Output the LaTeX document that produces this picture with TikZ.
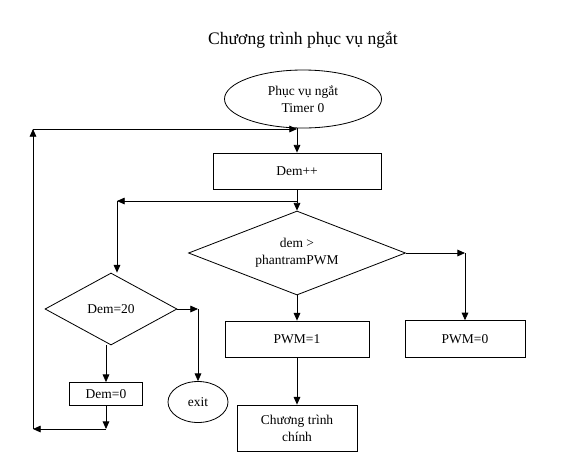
\documentclass[tikz,border=0pt]{standalone}
\usepackage{fontspec}
\setmainfont{Liberation Serif}
\usepackage{tikz}
\usetikzlibrary{shapes.geometric,arrows.meta}

\begin{document}
\begin{tikzpicture}[x=0.03cm,y=-0.03cm,font=\fontsize{11.5}{14.5}\selectfont,line width=0.7pt,
  b/.style={rectangle,draw,align=center,inner sep=2pt},
  el/.style={ellipse,draw,align=center,inner sep=1pt},
  dm/.style={diamond,draw,align=center,inner sep=0pt,shape aspect=2.5},
  ar/.style={-{Triangle[length=2.3mm,width=2mm]}}]
  \useasboundingbox (0,0) rectangle (564,465);
  \node (title) at (303,40) {\fontsize{15}{18}\selectfont Chương trình phục vụ ngắt};
  \node[el,minimum width=4.71cm,minimum height=1.74cm] (start) at (303,99) {Phục vụ ngắt\\Timer 0};
  \node[b,minimum width=5.04cm,minimum height=1.08cm] (dem) at (297,171) {Dem++};
  \node[dm,minimum width=6.51cm,minimum height=2.52cm] (cmp) at (297,253) {dem >\\phantramPWM};
  \node[b,minimum width=4.32cm,minimum height=1.08cm] (p1) at (297,339) {PWM=1};
  \node[b,minimum width=3.6cm,minimum height=1.1cm] (p0) at (465,339) {PWM=0};
  \node[b,minimum width=3.6cm,minimum height=1.38cm] (main) at (297,428) {Chương trình\\chính};
  \node[dm,minimum width=3.96cm,minimum height=2.16cm] (d20) at (111,309) {Dem=20};
  \node[b,minimum width=2.19cm,minimum height=0.69cm] (d0) at (106,394) {Dem=0};
  \node[el,minimum width=1.8cm,minimum height=1.23cm] (exit) at (198,402) {exit};
  \coordinate (br) at (297,201);
  \coordinate (bl) at (117,201);
  \coordinate (rc) at (cmp.east -| p0);
  \coordinate (ec) at (d20.east -| exit);
  \coordinate (bc) at (106,429);
  \coordinate (lb) at (33,429);
  \coordinate (lt) at (33,129);
  % main column
  \draw[ar] (dem |- start.south) -- (dem);
  \draw[ar] (dem) -- (cmp);
  \draw[ar] (cmp) -- (p1);
  \draw[ar] (p1) -- (main);
  \draw[ar] (cmp.east) -- (rc);
  \draw[ar] (rc) -- (p0);
  % counter branch
  \draw[ar] (br) -- (bl);
  \draw[ar] (bl) -- (bl |- d20.north);
  \draw[ar] (d20.east) -- (ec);
  \draw[ar] (ec) -- (exit);
  \draw[ar] (d0 |- d20.south) -- (d0);
  \draw[ar] (d0) -- (bc);
  \draw[ar] (bc) -- (lb);
  \draw[ar] (lb) -- (lt);
  \draw[ar] (lt) -- (lt -| dem);
\end{tikzpicture}
\end{document}
